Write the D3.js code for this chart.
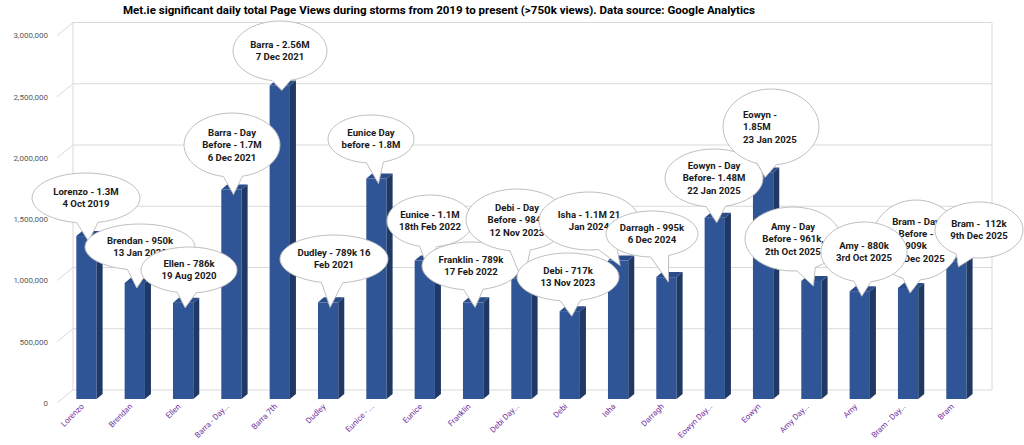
<!doctype html>
<html>
<head>
<meta charset="utf-8">
<script src="https://cdnjs.cloudflare.com/ajax/libs/d3/7.8.5/d3.min.js"></script>
<style>
  body { margin: 0; background: #fff; }
  text { font-family: Roboto, "Liberation Sans", sans-serif; }
</style>
</head>
<body>
<svg width="1024" height="445"></svg>
<script>
// storms, in the order on the x axis
var categories = ["Lorenzo", "Brendan", "Ellen", "Barra - Day...", "Barra 7th", "Dudley",
  "Eunice - ...", "Eunice", "Franklin", "Debi Day...", "Debi", "Isha", "Darragh",
  "Eowyn Day...", "Eowyn", "Amy Day...", "Amy", "Bram - Day...", "Bram"];

// daily page views
var pageViews = [1330000, 947000, 786000, 1710000, 2560000, 789000, 1800000, 1130000, 789000,
  984000, 717000, 1130000, 995000, 1480000, 1850000, 963000, 880000, 906000, 1120000];

// data label texts (as typed in the original)
var labelTexts = [
  ["Lorenzo - 1.3M", "4 Oct 2019"],
  ["Brendan - 950k", "13 Jan 2020"],
  ["Ellen - 786k", "19 Aug 2020"],
  ["Barra - Day", "Before - 1.7M", "6 Dec 2021"],
  ["Barra - 2.56M", "7 Dec 2021"],
  ["Dudley - 789k 16", "Feb 2021"],
  ["Eunice Day", "before - 1.8M"],
  ["Eunice - 1.1M", "18th Feb 2022"],
  ["Franklin - 789k", "17 Feb 2022"],
  ["Debi - Day", "Before - 984k", "12 Nov 2023"],
  ["Debi - 717k", "13 Nov 2023"],
  ["Isha - 1.1M 21", "Jan 2024"],
  ["Darragh - 995k", "6 Dec 2024"],
  ["Eowyn - Day", "Before- 1.48M", "22 Jan 2025"],
  ["Eowyn -", "1.85M", "23 Jan 2025"],
  ["Amy - Day", "Before - 961k,", "2th Oct 2025"],
  ["Amy - 880k", "3rd Oct 2025"],
  ["Bram - Day", "Before -", "909k", "9th Dec 2025"],
  ["Bram -\u00a0 112k", "9th Dec 2025"]
];

var yTicks = [0, 500000, 1000000, 1500000, 2000000, 2500000, 3000000];

var title = "Met.ie significant daily total Page Views during storms from 2019 to present (>750k views). Data source: Google Analytics";

// callout placement: ellipse centre, radii, text alignment
var calloutLayout = [
  [86, 198, 54, 25], [140, 247, 55, 23], [189, 270, 48, 23], [232, 145, 48, 32],
  [280, 51, 47, 30], [334, 259, 54, 24], [371, 139, 43, 24], [430, 221, 43, 26],
  [471, 266, 49, 24], [517, 220, 51, 31], [568, 277, 51, 24], [589, 221, 50, 29],
  [652, 234, 46, 23], [714, 178, 49, 29], [771, 127, 48, 38, "start"], [793, 239, 48, 32],
  [864, 252, 43, 30], [916, 240, 44, 40], [979, 230, 44, 28]
];
// stacking of the callouts (Bram day-before sits under Amy)
var drawOrder = [0, 1, 2, 3, 4, 5, 6, 7, 8, 9, 10, 11, 12, 13, 14, 15, 17, 16, 18];

var svg = d3.select("svg");

var yBack = d3.scaleLinear().domain([0, 3000000]).range([390, 22.5]);
var yFront = d3.scaleLinear().domain([0, 3000000]).range([399, 31.5]);
var x = d3.scaleBand().domain(categories).range([62.3, 980.6])
  .paddingInner(0.58).paddingOuter(0.29);
var depth = [6, -5];

// back wall + floor
var grid = svg.append("g").attr("stroke", "#d9d9d9").attr("fill", "none");
grid.selectAll("line.h").data(yTicks).enter().append("line")
  .attr("x1", 73).attr("x2", 992)
  .attr("y1", d => yBack(d)).attr("y2", d => yBack(d));
grid.selectAll("line.d").data(yTicks).enter().append("line")
  .attr("x1", 57).attr("x2", 73)
  .attr("y1", d => yBack(d) + 13).attr("y2", d => yBack(d));
grid.append("line").attr("x1", 73).attr("x2", 73).attr("y1", yBack(3000000)).attr("y2", yBack(0));
grid.append("line").attr("x1", 992).attr("x2", 992).attr("y1", yBack(3000000)).attr("y2", yBack(0));

svg.append("g").selectAll("text").data(yTicks).enter().append("text")
  .attr("x", 48).attr("y", d => yBack(d) + 13).attr("dy", "0.35em")
  .attr("text-anchor", "end").attr("font-size", 8).attr("fill", "#595959")
  .text(d => d3.format(",")(d));

// 3d columns
var bw = x.bandwidth();
var bars = svg.append("g").selectAll("g").data(categories).enter().append("g");
bars.append("rect")
  .attr("x", d => x(d)).attr("width", bw)
  .attr("y", (d, i) => yFront(pageViews[i]))
  .attr("height", (d, i) => yFront(0) - yFront(pageViews[i]))
  .attr("fill", "#2f5597");
bars.append("path")
  .attr("fill", "#1f3864")
  .attr("d", (d, i) => {
    var x1 = x(d) + bw, t = yFront(pageViews[i]), b = yFront(0);
    return "M" + x1 + "," + t + "L" + (x1 + depth[0]) + "," + (t + depth[1]) +
      "L" + (x1 + depth[0]) + "," + (b + depth[1]) + "L" + x1 + "," + b + "Z";
  });
bars.append("path")
  .attr("fill", "#2a4c88")
  .attr("d", (d, i) => {
    var x0 = x(d), t = yFront(pageViews[i]);
    return "M" + x0 + "," + t + "L" + (x0 + depth[0]) + "," + (t + depth[1]) +
      "L" + (x0 + bw + depth[0]) + "," + (t + depth[1]) + "L" + (x0 + bw) + "," + t + "Z";
  });

// x labels
svg.append("g").selectAll("text").data(categories).enter().append("text")
  .attr("transform", d => "translate(" + (x(d) + bw / 2 - 2) + ",407) rotate(-45)")
  .attr("text-anchor", "end").attr("font-size", 8).attr("fill", "#7030a0")
  .text(d => d);

// callouts
function calloutPath(c, tip) {
  var cx = c[0], cy = c[1], rx = c[2], ry = c[3];
  var t0 = Math.atan2((tip[1] - cy) / ry, (tip[0] - cx) / rx), s = 0.2;
  var p1 = [cx + rx * Math.cos(t0 - s), cy + ry * Math.sin(t0 - s)];
  var p2 = [cx + rx * Math.cos(t0 + s), cy + ry * Math.sin(t0 + s)];
  return "M" + p1 + "L" + tip + "L" + p2 +
    "A" + rx + "," + ry + " 0 1 1 " + p1 + "Z";
}

var labels = svg.append("g").selectAll("g").data(drawOrder).enter().append("g");
labels.append("path")
  .attr("fill", "#fff").attr("stroke", "#bfbfbf").attr("stroke-width", 1)
  .attr("d", i => calloutPath(calloutLayout[i],
    [x(categories[i]) + bw / 2 + 2, yFront(pageViews[i]) + 5]));
labels.each(function (i) {
  var c = calloutLayout[i], lines = labelTexts[i];
  var left = c[4] === "start";
  var t = d3.select(this).append("text")
    .attr("font-size", 9.6).attr("font-weight", "bold").attr("fill", "#1a1a1a")
    .attr("text-anchor", left ? "start" : "middle");
  lines.forEach((s, k) => {
    t.append("tspan")
      .attr("x", left ? c[0] - 28 : c[0])
      .attr("y", c[1] + (k - (lines.length - 1) / 2) * 12.2)
      .attr("dy", "0.35em")
      .text(s);
  });
});

svg.append("text")
  .attr("x", 123).attr("y", 13.5)
  .attr("font-size", 11.5).attr("font-weight", "bold").attr("fill", "#000")
  .attr("textLength", 632).attr("lengthAdjust", "spacingAndGlyphs")
  .text(title);
</script>
</body>
</html>
